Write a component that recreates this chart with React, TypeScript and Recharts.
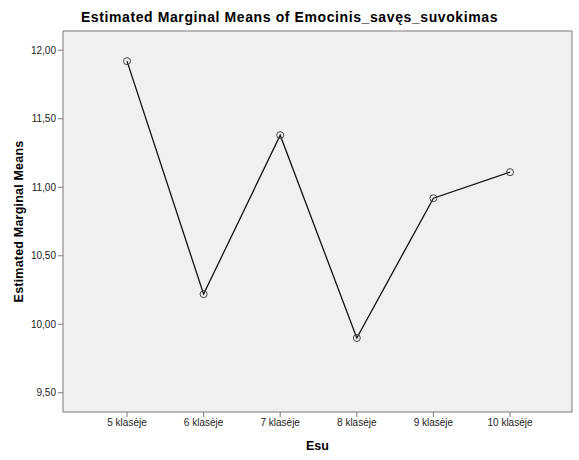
import { Label, Line, LineChart, XAxis, YAxis, CartesianGrid } from "recharts";

if (typeof document !== "undefined") document.body.style.margin = "0";

const CATEGORIES = ["5 klasėje", "6 klasėje", "7 klasėje", "8 klasėje", "9 klasėje", "10 klasėje"];
const MEANS = [11.92, 10.22, 11.38, 9.9, 10.92, 11.11];
const Y_TICKS = [9.5, 10, 10.5, 11, 11.5, 12];

const TITLE = "Estimated Marginal Means of Emocinis_savęs_suvokimas";
const FONT = "Arial, 'Liberation Sans', sans-serif";
const FRAME = "#7a7a7a";

const data = CATEGORIES.map((name, i) => ({ name, mean: MEANS[i] }));

const fmt = (v: number) => v.toFixed(2).replace(".", ",");

export default function App() {
  return (
    <div style={{ position: "relative", width: 579, height: 460, background: "#fff", fontFamily: FONT }}>
      <div
        style={{
          position: "absolute",
          top: 9,
          left: 0,
          width: 579,
          textAlign: "center",
          fontSize: 14,
          letterSpacing: 0.6,
          fontWeight: "bold",
          color: "#000",
        }}
      >
        {TITLE}
      </div>
      <LineChart width={579} height={460} data={data} margin={{ top: 30, right: 6, left: 0, bottom: 0 }}>
        <CartesianGrid horizontal={false} vertical={false} fill="#f0f0f0" />
        <XAxis
          dataKey="name"
          padding={{ left: 64, right: 62 }}
          height={48}
          stroke={FRAME}
          tickSize={5}
          tickMargin={2}
          tick={{ fill: "#222", fontSize: 10, fontFamily: FONT }}
          interval={0}
        >
          <Label value="Esu" position="center" dy={10} style={{ fontSize: 12.5, fontWeight: "bold", fill: "#000", fontFamily: FONT }} />
        </XAxis>
        <XAxis xAxisId="top" orientation="top" dataKey="name" height={1} tick={false} tickLine={false} stroke={FRAME} />
        <YAxis
          domain={[9.36, 12.14]}
          ticks={Y_TICKS}
          allowDataOverflow
          width={63}
          stroke={FRAME}
          tickSize={5}
          tickMargin={2}
          tickFormatter={fmt}
          tick={{ fill: "#222", fontSize: 10, fontFamily: FONT }}
        >
          <Label
            value="Estimated Marginal Means"
            angle={-90}
            position="center"
            dx={-13}
            style={{ fontSize: 12.5, letterSpacing: 0.2, fontWeight: "bold", fill: "#000", fontFamily: FONT, textAnchor: "middle" }}
          />
        </YAxis>
        <YAxis yAxisId="right" orientation="right" width={1} domain={[9.36, 12.14]} tick={false} tickLine={false} stroke={FRAME} />
        <Line
          dataKey="mean"
          stroke="#111"
          strokeWidth={1.3}
          dot={{ r: 3.5, stroke: "#444", strokeWidth: 1, fill: "none" }}
          activeDot={false}
          isAnimationActive={false}
        />
      </LineChart>
    </div>
  );
}
